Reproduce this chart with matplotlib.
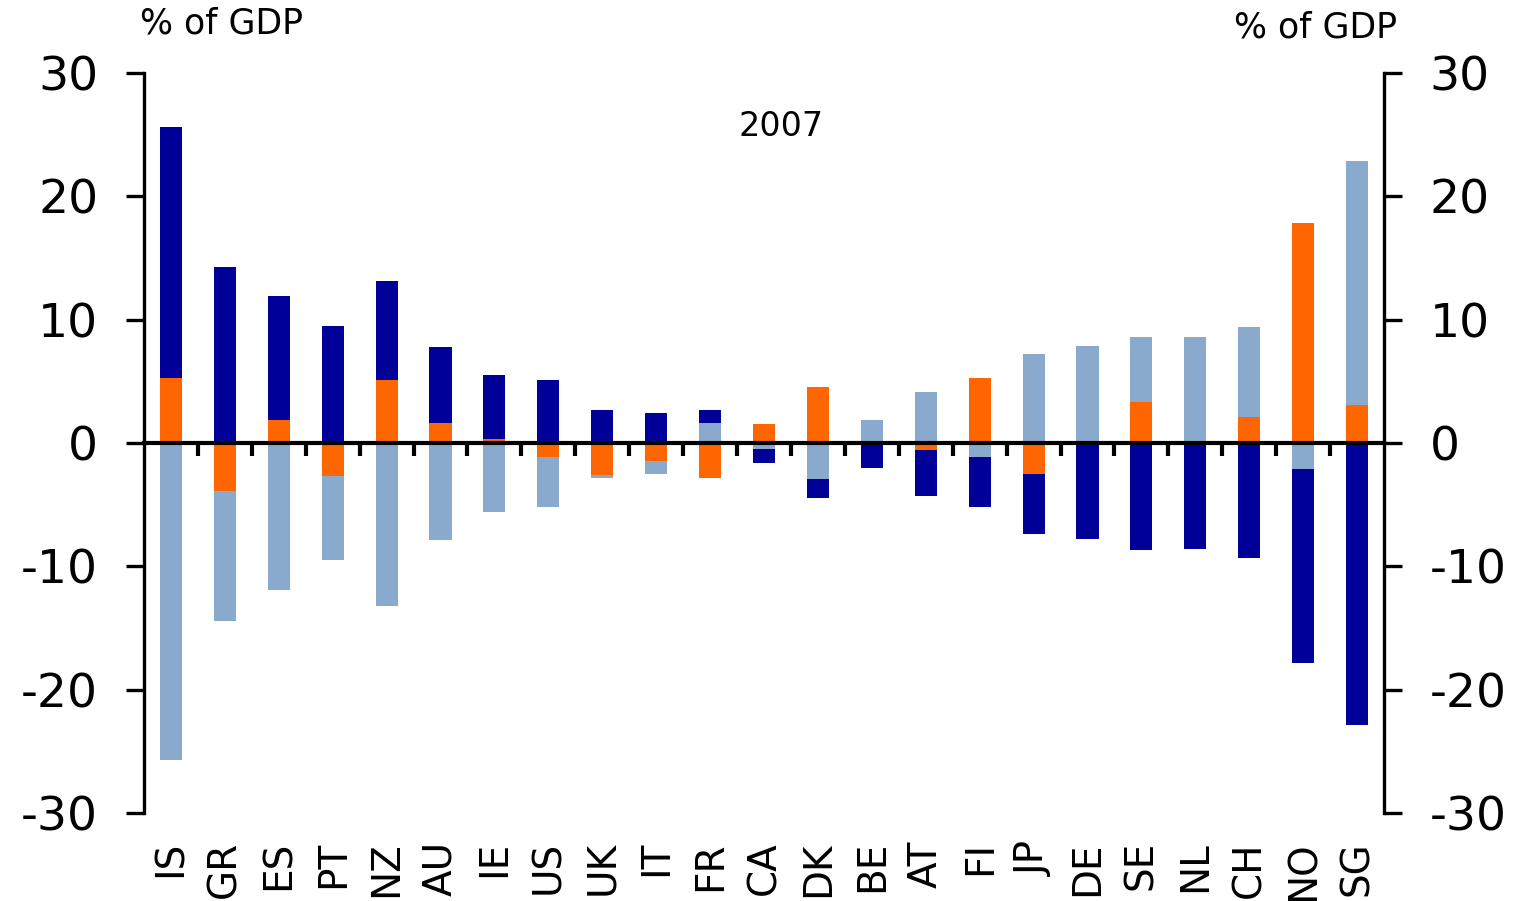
import matplotlib
matplotlib.use("Agg")
import matplotlib.pyplot as plt
import matplotlib.transforms as mtransforms
import numpy as np

plt.rcParams["axes.unicode_minus"] = False

# data (% of GDP, 2007)
countries = ["IS", "GR", "ES", "PT", "NZ", "AU", "IE", "US", "UK", "IT", "FR", "CA",
             "DK", "BE", "AT", "FI", "JP", "DE", "SE", "NL", "CH", "NO", "SG"]
orange = [5.3, -3.9, 1.9, -2.7, 5.1, 1.6, 0.3, -1.1, -2.6, -1.5, -2.8, 1.5,
          4.5, 0.0, -0.6, 5.3, -2.5, 0.1, 3.3, 0.1, 2.1, 17.8, 3.1]
light = [-25.7, -10.5, -11.9, -6.8, -13.2, -7.9, -5.6, -4.1, -0.2, -1.0, 1.6, -0.5,
         -2.9, 1.9, 4.1, -1.1, 7.2, 7.8, 5.3, 8.5, 7.3, -2.1, 19.8]
dark = [20.3, 14.3, 10.0, 9.5, 8.0, 6.2, 5.2, 5.1, 2.7, 2.4, 1.1, -1.1,
        -1.6, -2.0, -3.7, -4.1, -4.9, -7.8, -8.7, -8.6, -9.3, -15.7, -22.9]
yticks = [-30, -20, -10, 0, 10, 20, 30]

series = [(orange, "#FF6600"), (light, "#8AAACD"), (dark, "#000099")]

fig = plt.figure(figsize=(15.14, 9.01), dpi=100)
ax = fig.add_axes([144 / 1514, 1 - 813 / 901, (1384 - 144) / 1514, (813 - 73) / 901])

x = np.arange(len(countries))
pos_bottom = np.zeros(len(countries))
neg_bottom = np.zeros(len(countries))
for vals, col in series:
    v = np.array(vals)
    bottom = np.where(v >= 0, pos_bottom, neg_bottom)
    ax.bar(x, v, width=0.41, bottom=bottom, color=col, zorder=2)
    pos_bottom += np.where(v >= 0, v, 0)
    neg_bottom += np.where(v < 0, v, 0)

ax.set_xlim(-0.5, len(countries) - 0.5)
ax.set_ylim(-30, 30)
ax.set_yticks(yticks)
ax.tick_params(axis="y", labelsize=34, length=13, width=2.4, pad=20, direction="out")

ax.spines["top"].set_visible(False)
ax.spines["right"].set_visible(False)
ax.spines["left"].set_linewidth(2.4)
ax.spines["bottom"].set_position(("data", 0))
ax.spines["bottom"].set_linewidth(3)
ax.spines["bottom"].set_zorder(3)

ax.set_xticks(x)
ax.set_xticklabels([])
ax.tick_params(axis="x", which="major", length=0)
ax.set_xticks(x[:-1] + 0.5, minor=True)
ax.tick_params(axis="x", which="minor", length=9, width=3, direction="out")

trans = mtransforms.blended_transform_factory(ax.transData, ax.transAxes)
for i, c in enumerate(countries):
    ax.text(i, -0.038, c, transform=trans, rotation=90, ha="center", va="top", fontsize=28)

ax2 = ax.twinx()
ax2.set_ylim(-30, 30)
ax2.set_yticks(yticks)
ax2.tick_params(axis="y", labelsize=34, length=13, width=2.4, pad=20, direction="out")
for s in ["top", "left", "bottom"]:
    ax2.spines[s].set_visible(False)
ax2.spines["right"].set_linewidth(2.4)

fig.text(140 / 1514, 1 - 24 / 901, "% of GDP", fontsize=25, ha="left", va="center")
fig.text(1397 / 1514, 1 - 28 / 901, "% of GDP", fontsize=25, ha="right", va="center")
fig.text(781 / 1514, 1 - 126 / 901, "2007", fontsize=24, ha="center", va="center")

fig.savefig("out.png", dpi=100)
